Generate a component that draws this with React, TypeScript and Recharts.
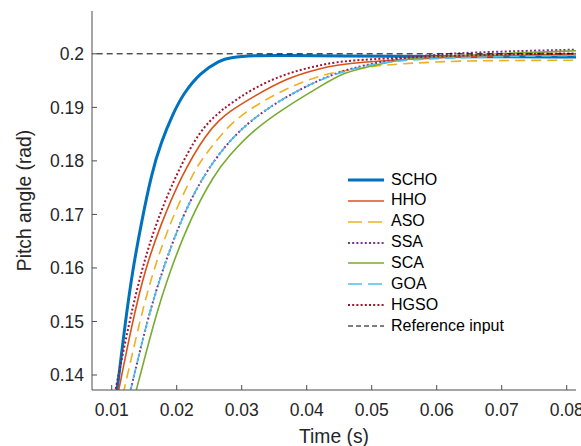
import React from "react";
import { LineChart, Line, XAxis, YAxis } from "recharts";

// axis ticks
const timeTicks = [0.01, 0.02, 0.03, 0.04, 0.05, 0.06, 0.07, 0.08];
const pitchTicks = [0.14, 0.15, 0.16, 0.17, 0.18, 0.19, 0.2];

// step responses (time in s, pitch in rad)
const schoT = [0.01046, 0.01086, 0.0121, 0.01323, 0.0145, 0.0161, 0.0176, 0.0195, 0.021, 0.0236, 0.0267, 0.028, 0.032, 0.036, 0.045, 0.06, 0.082];
const schoY = [0.1336, 0.13738, 0.15, 0.15963, 0.168, 0.1775, 0.1835, 0.189, 0.1925, 0.1965, 0.1988, 0.1993, 0.1997, 0.1997, 0.1996, 0.1995, 0.1994];

const hhoT = [0.01049, 0.01112, 0.0132, 0.0151, 0.0175, 0.0208, 0.02462, 0.02666, 0.02794, 0.03178, 0.03692, 0.04205, 0.0464, 0.065, 0.082];
const hhoY = [0.1336, 0.13738, 0.15, 0.1596, 0.168, 0.1775, 0.1852, 0.1877, 0.1891, 0.192, 0.1955, 0.1973, 0.1984, 0.1996, 0.2];

const asoT = [0.0112, 0.01194, 0.0143, 0.0164, 0.0193, 0.0225, 0.0236, 0.02794, 0.03178, 0.03692, 0.04205, 0.0464, 0.05174, 0.05789, 0.06482, 0.082];
const asoY = [0.1336, 0.13738, 0.15, 0.1596, 0.1695, 0.1775, 0.1799, 0.18673, 0.19015, 0.19359, 0.196, 0.197, 0.19794, 0.19837, 0.19875, 0.1988];

const ssaT = [0.01214, 0.01297, 0.0154, 0.0178, 0.0208, 0.0242, 0.02794, 0.03178, 0.03692, 0.04205, 0.0464, 0.05538, 0.0649, 0.082];
const ssaY = [0.1336, 0.13738, 0.15, 0.1596, 0.1695, 0.1775, 0.1836, 0.188, 0.1921, 0.1952, 0.1973, 0.1995, 0.2003, 0.2008];

const scaT = [0.01297, 0.01385, 0.0165, 0.019, 0.0222, 0.0258, 0.02794, 0.03178, 0.03692, 0.04205, 0.0458, 0.0502, 0.05538, 0.0648, 0.082];
const scaY = [0.1336, 0.13738, 0.15, 0.1596, 0.1695, 0.1775, 0.1808, 0.1858, 0.19015, 0.1939, 0.1966, 0.1978, 0.1992, 0.1998, 0.2006];

const goaT = [0.01214, 0.01297, 0.0154, 0.0178, 0.0208, 0.0242, 0.02794, 0.03178, 0.03692, 0.04205, 0.0464, 0.0502, 0.05538, 0.065, 0.082];
const goaY = [0.1336, 0.13738, 0.15, 0.1596, 0.1695, 0.1775, 0.1836, 0.188, 0.1921, 0.1952, 0.197, 0.1981, 0.1989, 0.1994, 0.1997];

const hgsoT = [0.00998, 0.01062, 0.0127, 0.0146, 0.0167, 0.0199, 0.02358, 0.02666, 0.02794, 0.03178, 0.03692, 0.04205, 0.0464, 0.0648, 0.082];
const hgsoY = [0.1336, 0.13738, 0.15, 0.1596, 0.168, 0.1775, 0.1858, 0.1892, 0.1904, 0.1936, 0.1964, 0.1979, 0.1989, 0.1998, 0.2001];

const refT = [0, 0.09];
const refY = [0.2, 0.2];

const toPoints = (t: number[], y: number[]) => t.map((v, i) => ({ t: v, y: y[i] }));

const series = [
  { name: "SCHO", t: schoT, y: schoY, color: "#0072BD", width: 3, dash: undefined as string | undefined, legendDash: undefined as string | undefined },
  { name: "HHO", t: hhoT, y: hhoY, color: "#D95319", width: 1.6, dash: undefined, legendDash: undefined },
  { name: "ASO", t: asoT, y: asoY, color: "#EDB120", width: 1.6, dash: "10 6", legendDash: "14 6" },
  { name: "SSA", t: ssaT, y: ssaY, color: "#7E2F8E", width: 2, dash: "2 2.2", legendDash: "2 2.2" },
  { name: "SCA", t: scaT, y: scaY, color: "#77AC30", width: 1.6, dash: undefined, legendDash: undefined },
  { name: "GOA", t: goaT, y: goaY, color: "#4DBEEE", width: 1.6, dash: "10 6", legendDash: "14 6" },
  { name: "HGSO", t: hgsoT, y: hgsoY, color: "#A2142F", width: 2, dash: "2 2.2", legendDash: "2 2.2" },
  { name: "Reference input", t: refT, y: refY, color: "#000000", width: 1, dash: "6 4", legendDash: "5 3" },
];

const FONT = "'Liberation Sans', Arial, Helvetica, sans-serif";
const AXIS = "#4d4d4d";
const TEXT = "#262626";

// legend sits inside the axes, no box (like the MATLAB figure)
const LegendBox = () => (
  <div style={{ position: "absolute", left: 348, top: 169.6, fontFamily: FONT, fontSize: 16, color: "#000" }}>
    {series.map((s) => (
      <div key={s.name} style={{ display: "flex", alignItems: "center", height: 20.85 }}>
        <svg width={36} height={20} style={{ display: "block" }}>
          <line x1={0} y1={10} x2={36} y2={10} stroke={s.color} strokeWidth={s.width} strokeDasharray={s.legendDash} />
        </svg>
        <span style={{ marginLeft: 7, lineHeight: "20.85px", whiteSpace: "nowrap" }}>{s.name}</span>
      </div>
    ))}
  </div>
);

export default function App() {
  const xDomain: [number, number] = [0.00697, 0.08143];
  const yDomain: [number, number] = [0.1372, 0.208];
  return (
    <div style={{ position: "absolute", left: 0, top: 0, width: 581, height: 446, background: "#fff", overflow: "hidden" }}>
      <LineChart width={581} height={446} margin={{ top: 11, right: 5, bottom: 0, left: 0 }}>
        <XAxis
          dataKey="t"
          type="number"
          domain={xDomain}
          ticks={timeTicks}
          interval={0}
          allowDataOverflow
          height={56}
          tickSize={-5}
          tickMargin={19}
          stroke={AXIS}
          tick={{ fill: TEXT, fontSize: 17.5, fontFamily: FONT }}
          label={{ value: "Time (s)", position: "insideBottom", offset: 3.5, style: { fill: TEXT, fontSize: 19.3, fontFamily: FONT } }}
        />
        <XAxis
          xAxisId="top"
          orientation="top"
          dataKey="t"
          type="number"
          domain={xDomain}
          ticks={timeTicks}
          interval={0}
          allowDataOverflow
          height={0}
          tickSize={-5}
          tick={false}
          stroke={AXIS}
        />
        <YAxis
          type="number"
          domain={yDomain}
          ticks={pitchTicks}
          interval={0}
          allowDataOverflow
          width={92}
          tickSize={-5}
          tickMargin={13}
          stroke={AXIS}
          tick={{ fill: TEXT, fontSize: 17.5, fontFamily: FONT }}
          label={{ value: "Pitch angle (rad)", angle: -90, position: "insideLeft", offset: 24, style: { textAnchor: "middle", fill: TEXT, fontSize: 19.3, fontFamily: FONT } }}
        />
        <YAxis
          yAxisId="right"
          orientation="right"
          type="number"
          domain={yDomain}
          ticks={pitchTicks}
          interval={0}
          allowDataOverflow
          width={0}
          tickSize={-5}
          tick={false}
          stroke={AXIS}
        />
        {series.map((s) => (
          <Line
            key={s.name}
            data={toPoints(s.t, s.y)}
            dataKey="y"
            name={s.name}
            type={s.t.length > 2 ? "basis" : "linear"}
            stroke={s.color}
            strokeWidth={s.width}
            strokeDasharray={s.dash}
            dot={false}
            activeDot={false}
            isAnimationActive={false}
          />
        ))}
      </LineChart>
      <LegendBox />
    </div>
  );
}
